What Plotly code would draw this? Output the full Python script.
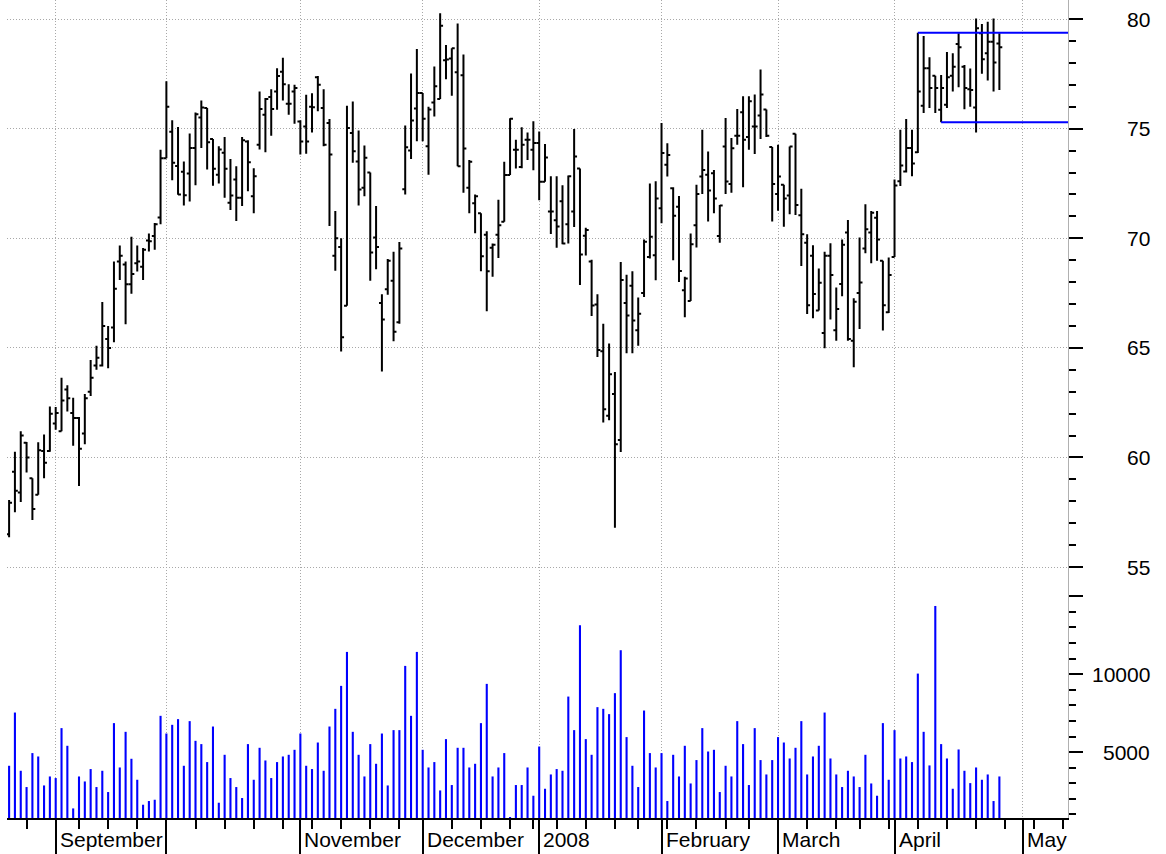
import plotly.graph_objects as go

# ---------------- data (daily bars, index = trading day) ----------------
opens = [56.5, 59.35, 58.4, 60.67, 59.05, 58.3, 60.3, 60.3, 61.55, 61.2,
         63.1, 62.03, 61.8, 61.1, 63.0, 64.2, 64.2, 65.4, 65.93, 68.94,
         68.8, 67.9, 68.86, 68.7, 69.9, 70.1, 70.95, 73.65, 74.86, 73.3,
         73.04, 72.96, 74.12, 75.51, 75.94, 74.53, 72.9, 73.9, 71.62, 72.68,
         71.85, 74.42, 71.92, 74.27, 75.64, 76.44, 76.7, 77.6, 76.14, 76.7,
         75.33, 75.1, 76.0, 77.35, 75.94, 75.26, 69.2, 69.6, 66.92, 74.8,
         73.5, 72.3, 73.0, 70.03, 67.05, 67.68, 68.06, 66.17, 72.24, 74.0,
         75.92, 76.63, 74.2, 76.19, 76.35, 78.12, 78.2, 77.57, 77.44, 72.31,
         71.6, 71.14, 70.16, 69.57, 70.16, 70.75, 72.89, 74.04, 73.25, 74.5,
         74.04, 74.35, 72.58, 71.22, 70.82, 71.69, 70.64, 71.22, 73.18, 70.12,
         68.94, 66.98, 64.85, 61.9, 62.9, 60.8, 67.05, 67.84, 65.8, 67.5,
         69.15, 69.23, 71.37, 73.35, 72.28, 71.44, 67.63, 67.14, 70.6, 72.82,
         72.9, 72.97, 70.1, 74.19, 72.48, 74.68, 75.75, 74.62, 75.1, 75.6,
         75.87, 74.16, 72.02, 72.44, 71.95, 74.77, 71.05, 69.8, 69.2, 66.7,
         65.68, 69.2, 65.8, 67.91, 70.26, 65.33, 67.5, 69.53, 70.26, 70.94,
         68.97, 66.62, 69.15, 72.6, 73.05, 74.12, 73.92, 76.05, 77.76, 77.41,
         75.86, 76.09, 77.41, 78.86, 77.83, 76.8, 75.97, 79.35, 78.44, 78.97,
         78.89]
highs = [58.06, 60.26, 61.2, 60.71, 59.05, 60.7, 61.05, 62.33, 62.3, 63.64,
         63.3, 62.73, 61.85, 62.9, 64.45, 65.1, 67.09, 66.0, 68.94, 69.67,
         68.94, 70.07, 69.67, 69.56, 70.22, 70.7, 74.04, 77.16, 75.39, 75.08,
         73.5, 74.78, 75.74, 76.28, 75.94, 74.53, 74.2, 74.62, 73.62, 73.29,
         74.62, 74.47, 73.2, 76.7, 76.4, 76.8, 77.76, 78.24, 77.03, 77.0,
         75.38, 76.55, 76.62, 77.4, 76.8, 75.44, 71.24, 70.0, 76.05, 76.24,
         74.92, 74.23, 73.0, 71.47, 67.45, 69.05, 69.38, 69.83, 75.14, 77.52,
         78.64, 76.63, 76.0, 77.84, 80.27, 78.82, 78.67, 79.8, 78.38, 73.57,
         72.0, 71.14, 70.32, 69.76, 71.76, 73.49, 75.48, 74.5, 75.06, 74.82,
         75.34, 74.87, 74.3, 72.83, 72.83, 72.42, 72.86, 74.98, 73.18, 70.48,
         69.02, 67.45, 66.1, 65.2, 63.9, 68.92, 68.34, 68.5, 67.3, 69.95,
         72.5, 72.6, 75.26, 74.34, 72.33, 71.93, 68.24, 70.22, 72.44, 74.95,
         73.96, 73.12, 71.52, 75.49, 74.57, 75.9, 76.48, 76.48, 76.56, 77.7,
         75.87, 74.16, 74.27, 72.44, 74.19, 74.77, 72.26, 70.18, 69.68, 68.62,
         69.38, 69.77, 67.76, 69.95, 70.83, 67.26, 70.03, 71.55, 71.24, 71.24,
         68.97, 69.12, 72.68, 74.95, 75.44, 74.95, 79.38, 79.23, 78.26, 77.41,
         77.45, 78.5, 78.44, 79.35, 77.9, 77.74, 80.03, 79.77, 79.88, 80.03,
         79.35]
lows = [56.36, 57.5, 57.97, 59.32, 57.15, 58.3, 59.05, 60.26, 61.27, 61.2,
        62.1, 60.53, 58.7, 60.6, 62.8, 64.0, 64.15, 64.07, 65.26, 68.1,
        66.08, 67.47, 68.48, 68.1, 69.4, 69.48, 70.64, 73.65, 72.65, 71.99,
        71.5, 71.68, 72.42, 74.12, 73.14, 72.4, 72.5, 71.85, 71.29, 70.79,
        71.47, 72.15, 71.14, 74.05, 73.92, 74.68, 75.86, 76.29, 75.64, 75.23,
        73.82, 73.86, 74.83, 75.8, 74.2, 70.56, 68.52, 64.83, 66.92, 73.44,
        71.5, 71.92, 68.06, 68.59, 63.92, 67.42, 65.3, 66.1, 72.0, 73.62,
        74.43, 74.43, 72.9, 75.56, 76.35, 77.25, 76.5, 73.29, 72.08, 71.14,
        70.23, 68.5, 66.67, 68.24, 69.1, 70.75, 72.89, 73.18, 73.2, 73.57,
        73.1, 71.73, 72.58, 70.2, 69.57, 69.73, 69.76, 70.51, 67.87, 69.22,
        66.46, 64.58, 61.6, 61.7, 56.8, 60.25, 64.76, 64.76, 65.1, 67.32,
        69.08, 68.08, 70.68, 72.82, 69.0, 68.0, 66.4, 67.14, 69.58, 72.02,
        70.76, 71.14, 69.8, 72.02, 72.08, 74.27, 72.33, 74.04, 73.85, 74.53,
        74.62, 70.76, 71.26, 70.53, 71.1, 71.06, 68.74, 66.55, 66.35, 66.7,
        64.98, 66.29, 65.33, 67.35, 65.33, 64.12, 65.86, 69.32, 68.86, 68.97,
        65.79, 66.59, 69.15, 72.38, 73.0, 72.83, 73.89, 75.71, 75.94, 75.71,
        75.29, 75.94, 76.7, 76.89, 75.89, 76.0, 74.83, 77.5, 77.2, 76.7,
        76.77]
closes = [57.94, 58.48, 61.0, 60.0, 57.65, 60.33, 59.76, 62.0, 62.03, 62.6,
          62.7, 61.8, 60.4, 62.7, 63.64, 64.55, 66.0, 65.0, 67.7, 69.2,
          67.9, 68.37, 68.94, 69.48, 69.87, 70.64, 73.65, 76.0, 73.45, 72.0,
          71.96, 74.12, 75.66, 75.97, 74.38, 73.17, 74.05, 73.17, 71.95, 71.85,
          74.47, 73.47, 72.83, 75.9, 76.35, 75.9, 77.4, 77.03, 76.14, 76.85,
          74.42, 74.42, 75.98, 77.0, 74.27, 73.82, 70.0, 65.48, 75.03, 73.97,
          72.23, 73.67, 69.35, 69.6, 66.3, 68.97, 65.74, 69.53, 74.15, 75.37,
          76.63, 75.45, 75.87, 76.94, 79.69, 78.16, 78.67, 73.29, 74.09, 73.49,
          71.92, 69.18, 68.5, 69.7, 70.59, 72.89, 75.45, 74.04, 74.27, 74.5,
          74.35, 72.58, 73.68, 71.22, 70.54, 69.76, 72.83, 73.73, 69.26, 70.38,
          66.93, 64.9, 62.2, 63.8, 60.6, 68.1, 66.48, 66.25, 66.56, 69.84,
          70.07, 71.82, 73.89, 73.8, 71.03, 68.51, 68.16, 69.73, 72.02, 73.12,
          72.18, 71.82, 71.49, 72.59, 74.11, 74.68, 74.5, 76.25, 75.1, 76.56,
          74.68, 72.48, 72.82, 71.82, 74.19, 71.52, 70.18, 66.95, 67.46, 67.97,
          69.2, 68.32, 66.77, 69.7, 65.41, 67.11, 67.98, 70.41, 71.17, 69.95,
          66.95, 68.32, 72.41, 73.32, 74.12, 73.41, 76.7, 77.76, 76.85, 76.85,
          76.85, 77.35, 77.83, 78.71, 76.85, 76.76, 79.58, 78.17, 78.97, 78.02,
          78.71]
volume = [4122, 7538, 3801, 2756, 4936, 4718, 2859, 3436, 3333, 6538,
          5404, 1385, 3436, 3115, 3910, 2756, 3801, 2436, 6859, 4013,
          6301, 4571, 3224, 1622, 1859, 1942, 7327, 6192, 6750, 7115,
          4122, 6987, 5724, 5513, 4359, 6641, 1750, 4827, 3333, 2756,
          2051, 5513, 3224, 5276, 4462, 3333, 4359, 4718, 4827, 5147,
          6192, 4122, 3910, 5615, 3801, 6641, 7776, 9250, 11429, 6301,
          4827, 3436, 5513, 4250, 6192, 2859, 6410, 6410, 10532, 7327,
          11429, 5147, 4013, 4359, 2539, 5833, 2885, 5276, 5276, 4013,
          4250, 6859, 9378, 3436, 4013, 4936, 833, 2885, 2885, 4013,
          2199, 5359, 2647, 3564, 3910, 3801, 8564, 6410, 13141, 5833,
          4827, 7885, 7776, 7436, 8782, 11538, 5962, 4122, 2756, 7667,
          4936, 4013, 4936, 1859, 4827, 3436, 5404, 2987, 4487, 6538,
          5038, 5147, 2436, 4122, 3436, 6987, 5513, 2885, 6538, 4487,
          3564, 4487, 5962, 5615, 4590, 5276, 6987, 3564, 4718, 5404,
          7538, 4590, 3564, 2756, 3801, 3436, 2756, 4827, 2987, 2199,
          6859, 3224, 6410, 4590, 4718, 4359, 10038, 6301, 4144, 14378,
          5513, 4590, 2647, 5169, 3801, 3009, 4013, 3224, 3564, 1859,
          3436]
days = list(range(len(closes)))

month_pos = [8, 27, 50, 71, 91, 112, 132, 152, 174]
month_labels = ["September", "", "November", "December", "2008",
                "February", "March", "April", "May"]
week_ticks = [3, 12, 17, 22, 32, 37, 42, 47, 52, 57, 62, 67, 76, 81, 86, 90,
              94, 99, 104, 108, 113, 118, 123, 127, 137, 142, 146, 151, 156,
              161, 166, 171, 176, 181]
price_ticks = [55, 60, 65, 70, 75, 80]
price_minor = [55 + k for k in range(0, 26) if k % 5]
vol_major = [5000, 10000, 15000]
vol_labels = [5000, 10000]
vol_minor = [1000 * k for k in range(1, 16) if k % 5]
res_start, sup_start = 156, 160

x_range = [-0.36, 181.78]
price_range = [54.32, 80.87]
vol_range = [770, 15916]

FONT = "Liberation Sans, Arial, sans-serif"
GRID = "#a8a8a8"
GRID_DASH = "1px,2px"

fig = go.Figure()
fig.add_trace(go.Ohlc(
    x=days, open=opens, high=highs, low=lows, close=closes,
    increasing=dict(line=dict(color="black", width=2)),
    decreasing=dict(line=dict(color="black", width=2)),
    tickwidth=0.5, xaxis="x", yaxis="y", showlegend=False, hoverinfo="skip"))
fig.add_trace(go.Bar(
    x=days, y=volume, width=0.36, marker=dict(color="#0000ff", line=dict(width=0)),
    xaxis="x2", yaxis="y2", showlegend=False, hoverinfo="skip"))

res_level = highs[res_start]
sup_level = lows[sup_start]
for xs, lvl in ((res_start, res_level), (sup_start, sup_level)):
    fig.add_trace(go.Scatter(
        x=[xs, x_range[1]], y=[lvl, lvl], mode="lines",
        line=dict(color="#0000ff", width=2), xaxis="x", yaxis="y",
        showlegend=False, hoverinfo="skip"))

split = 1 - 582 / 818

fig.update_layout(
    width=1166, height=854,
    margin=dict(l=7, r=98, t=0, b=36),
    plot_bgcolor="white", paper_bgcolor="white",
    showlegend=False,
    font=dict(family=FONT, size=21, color="black"),
    xaxis=dict(domain=[0, 1], anchor="y", range=x_range,
               tickmode="array", tickvals=month_pos, showticklabels=False,
               ticks="", showgrid=True, gridcolor=GRID, griddash=GRID_DASH,
               gridwidth=1, zeroline=False, showline=False,
               rangeslider=dict(visible=False)),
    xaxis2=dict(domain=[0, 1], anchor="y2", range=x_range,
                tickmode="array", tickvals=month_pos,
                ticktext=[""] * len(month_pos),
                ticks="outside", ticklen=36, tickwidth=1.5, tickcolor="black",
                showgrid=True, gridcolor=GRID, griddash=GRID_DASH, gridwidth=1,
                zeroline=False, showline=True, linecolor="black", linewidth=1.5,
                minor=dict(tickmode="array", tickvals=week_ticks,
                           ticks="outside", ticklen=9, tickwidth=2,
                           tickcolor="black", showgrid=False)),
    yaxis=dict(domain=[split, 1], anchor="x", side="right", range=price_range,
               tickmode="array", tickvals=price_ticks, showticklabels=False,
               ticks="outside", ticklen=14, tickwidth=2, tickcolor="black",
               showline=True, linecolor="#b0b0b0", linewidth=1,
               showgrid=True, gridcolor=GRID, griddash=GRID_DASH, gridwidth=1,
               zeroline=False,
               minor=dict(tickmode="array", tickvals=price_minor,
                          ticks="outside", ticklen=7, tickwidth=2,
                          tickcolor="black", showgrid=False)),
    yaxis2=dict(domain=[0, split], anchor="x2", side="right", range=vol_range,
                tickmode="array", tickvals=vol_major, showticklabels=False,
                ticks="outside", ticklen=14, tickwidth=2, tickcolor="black",
                showline=True, linecolor="#b0b0b0", linewidth=1,
                showgrid=False, zeroline=False,
                minor=dict(tickmode="array", tickvals=vol_minor,
                           ticks="outside", ticklen=7, tickwidth=2,
                           tickcolor="black", showgrid=False)),
)

annotations = []
for pos, lab in zip(month_pos, month_labels):
    if lab:
        annotations.append(dict(
            x=pos, xref="x2", y=0, yref="paper", text=lab, showarrow=False,
            xanchor="left", yanchor="middle", xshift=2, yshift=-21,
            font=dict(family=FONT, size=21, color="black")))
for v in price_ticks:
    annotations.append(dict(
        x=1, xref="paper", y=v, yref="y", text=str(v), showarrow=False,
        xanchor="right", yanchor="middle", xshift=84,
        font=dict(family=FONT, size=21, color="black")))
for v in vol_labels:
    annotations.append(dict(
        x=1, xref="paper", y=v, yref="y2", text=str(v), showarrow=False,
        xanchor="right", yanchor="middle", xshift=84,
        font=dict(family=FONT, size=21, color="black")))
fig.update_layout(annotations=annotations)

fig.write_html(
    "out.html",
    config={"displayModeBar": False},
    post_script="document.body.style.margin='0';document.body.style.overflow='hidden';")
